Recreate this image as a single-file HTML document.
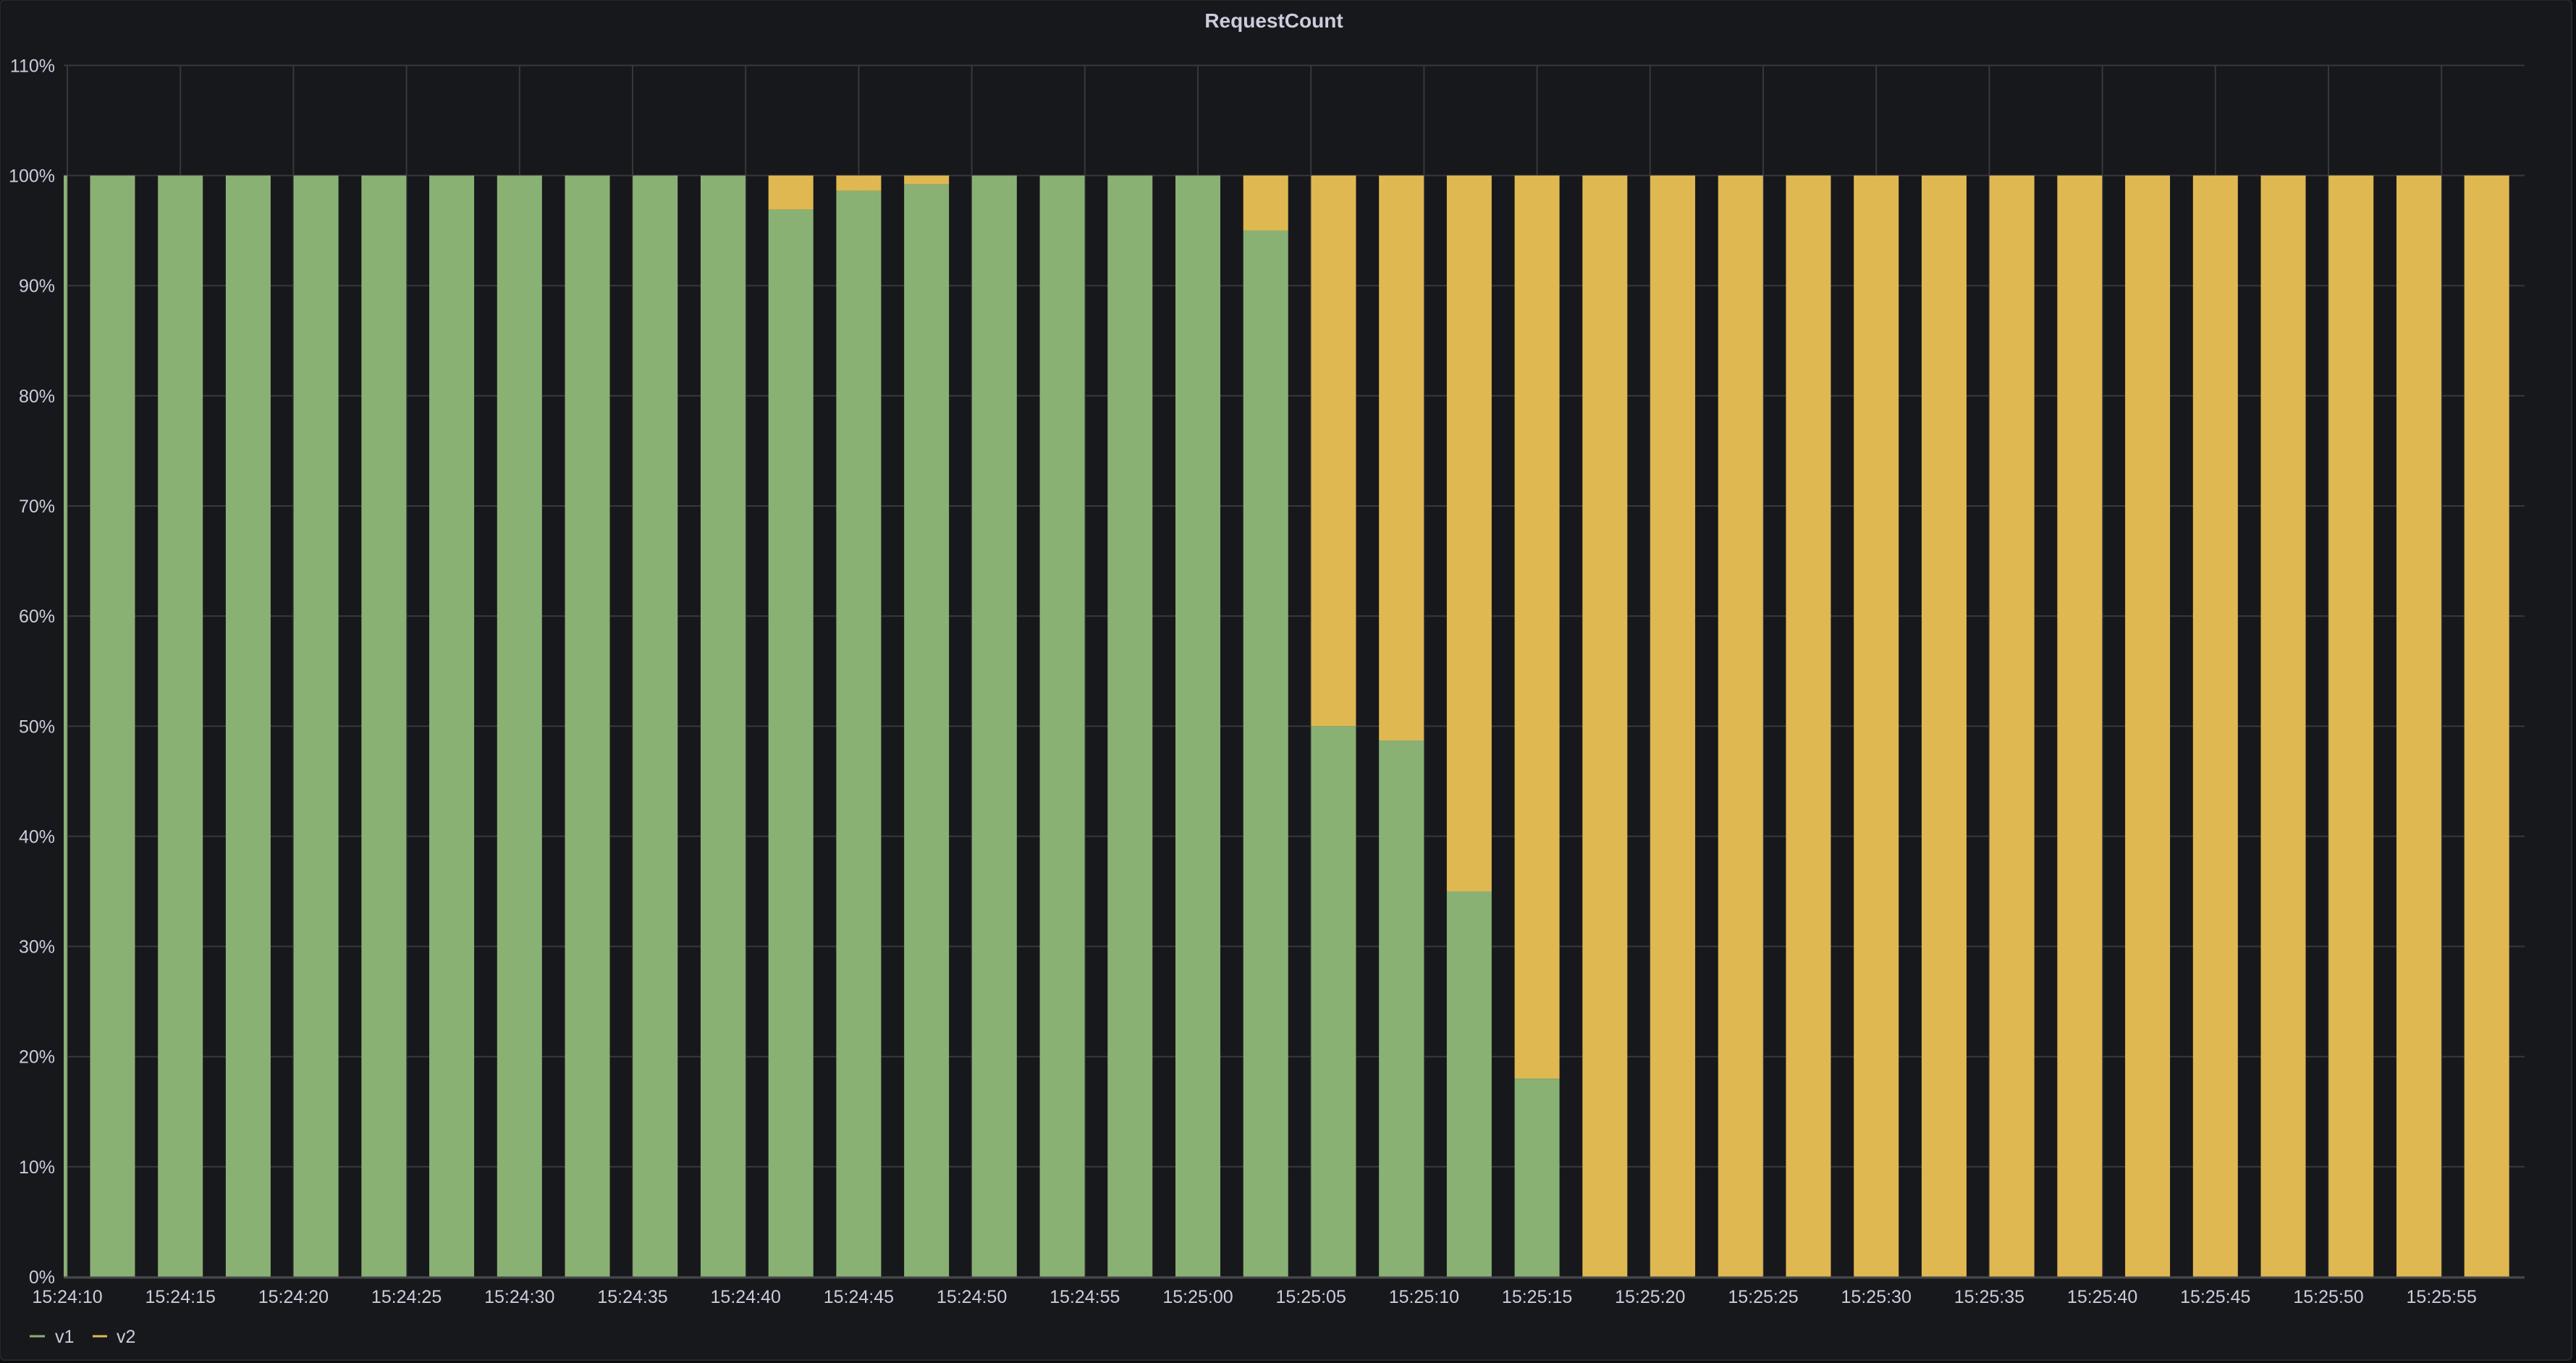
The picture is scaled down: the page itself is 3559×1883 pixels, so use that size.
<!DOCTYPE html>
<html><head><meta charset="utf-8"><style>
html,body{margin:0;padding:0;background:#0c0d0f;}
svg{display:block;}
text{font-family:"Liberation Sans",sans-serif;fill:#ccccdc;}
</style></head><body>
<svg width="3559" height="1883" viewBox="0 0 3559 1883" xmlns="http://www.w3.org/2000/svg">
<rect x="0" y="0" width="3553" height="1879" rx="6" fill="#17181c" stroke="#26272b" stroke-width="2"/>
<text x="1760" y="38" font-size="28" font-weight="bold" text-anchor="middle">RequestCount</text>
<g id="grid" stroke="#37383c" stroke-width="2"></g>
<g id="bars"></g>
<line x1="88" y1="1765" x2="3488" y2="1765" stroke="#45464a" stroke-width="3"/>
<g id="ylab" font-size="25" text-anchor="end"></g>
<g id="xlab" font-size="25" text-anchor="middle"></g>
<line x1="41" y1="1846" x2="62" y2="1846" stroke="#8ab174" stroke-width="3"/>
<text x="76" y="1855" font-size="25">v1</text>
<line x1="128" y1="1846" x2="148" y2="1846" stroke="#e0b852" stroke-width="3"/>
<text x="161" y="1855" font-size="25">v2</text>
</svg>
<script>
var ns="http://www.w3.org/2000/svg";
function el(t,a,p,txt){var e=document.createElementNS(ns,t);for(var k in a)e.setAttribute(k,a[k]);if(txt)e.textContent=txt;document.getElementById(p).appendChild(e);return e;}
var y0=1764,h10=152.15,s=31.24,x0=93;
for(var i=0;i<=11;i++){var y=y0-i*h10;el('line',{x1:88,x2:3488,y1:y,y2:y},'grid');el('text',{x:76,y:y+9},'ylab',(i*10)+'%');}
for(var k=0;k<=21;k++){var x=x0+k*5*s;el('line',{x1:x,x2:x,y1:90,y2:1764},'grid');
var sec=10+k*5,m=24+Math.floor(sec/60);sec=sec%60;el('text',{x:x,y:1800},'xlab','15:'+m+':'+(sec<10?'0':'')+sec);}
var vals=[100,100,100,100,100,100,100,100,100,100,96.9,98.6,99.2,100,100,100,100,95,50,48.7,35,18];
for(var k=0;k<36;k++)if(k>=vals.length)vals.push(0);
function bar(cx,v){var l=Math.max(cx-31,88),r=cx+31,w=r-l;var yg=y0-v/100*h10*10;
if(v<100)el('rect',{x:l,y:y0-10*h10,width:w,height:yg-(y0-10*h10),fill:'#e0b852'},'bars');
if(v>0)el('rect',{x:l,y:yg,width:w,height:y0-yg,fill:'#8ab174'},'bars');}
bar(x0-s,100);
for(var k=0;k<36;k++)bar(x0+(2+3*k)*s,vals[k]);
</script>
</body></html>
